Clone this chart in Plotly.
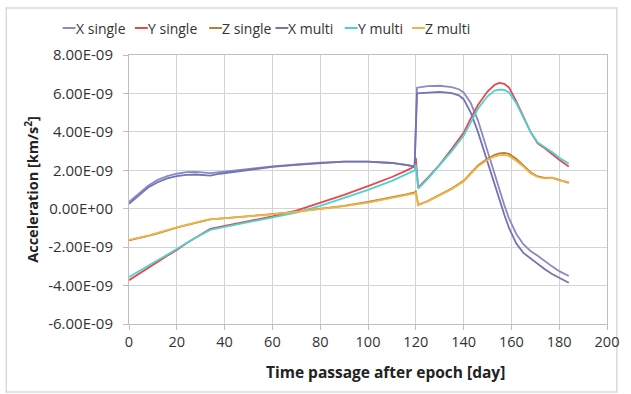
import plotly.graph_objects as go
import numpy as np

# ---- data (acceleration in units of 1e-9 km/s^2) ----
series_names = ["X single", "Y single", "Z single", "X multi", "Y multi", "Z multi"]
series_colors = ["#8A8AC6", "#E8474F", "#B57D3E", "#7474B3", "#4DD2D2", "#F0B443"]

days_x = [0, 4, 8, 12, 16, 20, 24, 28, 32, 34, 38, 44, 50, 60, 70, 80, 90, 100, 110, 116, 119.5,
          120.5, 125, 130, 135, 138, 140, 143, 146, 150, 153, 155, 157, 159, 162, 165, 168, 171, 174, 177, 180, 184]
x_single = [0.35, 0.8, 1.2, 1.5, 1.7, 1.82, 1.9, 1.92, 1.88, 1.85, 1.9, 1.98, 2.08, 2.2, 2.3, 2.4, 2.45, 2.45, 2.38, 2.28, 2.2,
            6.3, 6.38, 6.4, 6.33, 6.22, 6.05, 5.5, 4.6, 3.0, 1.8, 0.95, 0.2, -0.5, -1.3, -1.85, -2.2, -2.45, -2.75, -3.0, -3.25, -3.5]
x_multi = [0.25, 0.7, 1.1, 1.38, 1.58, 1.7, 1.76, 1.78, 1.75, 1.72, 1.82, 1.92, 2.05, 2.18, 2.28, 2.38, 2.45, 2.45, 2.38, 2.28, 2.2,
           6.0, 6.05, 6.08, 6.02, 5.9, 5.7, 5.0, 4.0, 2.4, 1.3, 0.5, -0.3, -1.0, -1.8, -2.3, -2.6, -2.85, -3.15, -3.4, -3.6, -3.85]

days_yz = [0, 4, 8, 12, 16, 20, 24, 28, 32, 34, 38, 44, 50, 60, 70, 80, 90, 100, 110, 116, 119.5, 120,
           121, 125, 130, 135, 140, 143, 146, 150, 153, 155, 157, 159, 162, 165, 168, 171, 174, 177, 180, 184]
y_single = [-3.72, -3.4, -3.05, -2.75, -2.45, -2.15, -1.8, -1.5, -1.2, -1.05, -0.95, -0.8, -0.65, -0.4, -0.1, 0.3, 0.72, 1.18, 1.65, 1.98, 2.2, 2.65,
            1.1, 1.6, 2.3, 3.1, 3.95, 4.7, 5.4, 6.1, 6.45, 6.55, 6.5, 6.3, 5.6, 4.8, 4.0, 3.4, 3.15, 2.85, 2.55, 2.2]
y_multi = [-3.55, -3.25, -2.95, -2.68, -2.4, -2.12, -1.8, -1.5, -1.22, -1.1, -1.0, -0.85, -0.7, -0.45, -0.2, 0.15, 0.55, 0.98, 1.45, 1.8, 2.0, 2.3,
           1.05, 1.55, 2.25, 3.0, 3.8, 4.5, 5.2, 5.85, 6.15, 6.2, 6.18, 6.05, 5.5, 4.75, 4.0, 3.45, 3.2, 2.95, 2.65, 2.35]
z_single = [-1.65, -1.55, -1.42, -1.28, -1.12, -0.98, -0.85, -0.72, -0.6, -0.56, -0.52, -0.46, -0.4, -0.28, -0.15, 0.0, 0.15, 0.35, 0.58, 0.75, 0.85, 0.9,
            0.2, 0.4, 0.72, 1.05, 1.45, 1.85, 2.25, 2.6, 2.8, 2.88, 2.9, 2.85, 2.6, 2.25, 1.9, 1.68, 1.6, 1.62, 1.5, 1.35]
z_multi = [-1.62, -1.52, -1.4, -1.26, -1.1, -0.97, -0.84, -0.71, -0.6, -0.56, -0.52, -0.46, -0.4, -0.29, -0.16, -0.02, 0.13, 0.32, 0.55, 0.72, 0.8, 0.85,
           0.18, 0.38, 0.7, 1.02, 1.42, 1.8, 2.2, 2.55, 2.72, 2.78, 2.8, 2.75, 2.5, 2.2, 1.85, 1.65, 1.58, 1.6, 1.48, 1.38]

y_tick_vals = [-6, -4, -2, 0, 2, 4, 6, 8]
y_tick_text = ["-6.00E-09", "-4.00E-09", "-2.00E-09", "0.00E+00", "2.00E-09", "4.00E-09", "6.00E-09", "8.00E-09"]
x_tick_vals = [0, 20, 40, 60, 80, 100, 120, 140, 160, 180, 200]
x_title = "Time passage after epoch [day]"
y_title = "Acceleration [km/s<sup>2</sup>]"

SCALE = 1e-9
FONT = "Open Sans"

series_x = [days_x, days_yz, days_yz, days_x, days_yz, days_yz]
series_y = [x_single, y_single, z_single, x_multi, y_multi, z_multi]

fig = go.Figure()
for name, color, xs, ys in zip(series_names, series_colors, series_x, series_y):
    fig.add_trace(go.Scatter(x=xs, y=np.array(ys) * SCALE, mode="lines", name=name,
                             line=dict(color=color, width=1.8), showlegend=False))

# custom compact legend (short coloured dash + name)
legend_px = [62, 135, 210, 277, 347, 415]
L, R, T, B = 129, 19, 55, 70
W, H = 631, 394
pw, ph = W - L - R, H - T - B
leg_y = (H - B - 28) / ph
for name, color, px in zip(series_names, series_colors, legend_px):
    fig.add_shape(type="line", xref="paper", yref="paper",
                  x0=(px - L) / pw, x1=(px + 13 - L) / pw, y0=leg_y, y1=leg_y,
                  line=dict(color=color, width=2))
    fig.add_annotation(x=(px + 13 - L) / pw, y=leg_y, xref="paper", yref="paper",
                       xanchor="left", yanchor="middle", showarrow=False, xshift=-2,
                       text=name, font=dict(family=FONT, size=14, color="#333333"))

# x-axis title (placed as in the reference, slightly right of centre)
fig.add_annotation(x=(388 - L) / pw, y=(H - B - 372) / ph, xref="paper", yref="paper",
                   xanchor="center", yanchor="middle", showarrow=False,
                   text=x_title, font=dict(family=FONT, size=15.5, weight="bold", color="#222222"))

# outer chart border
fig.add_shape(type="rect", xref="paper", yref="paper",
              x0=(5 - L) / pw, x1=(622 - L) / pw, y0=(H - B - 392) / ph, y1=(H - B - 8) / ph,
              line=dict(color="#D9D9D9", width=1.5), fillcolor="rgba(0,0,0,0)", layer="below")

fig.update_layout(
    width=W, height=H, margin=dict(l=L, r=R, t=T, b=B),
    paper_bgcolor="white", plot_bgcolor="white",
    font=dict(family=FONT, size=14, color="#333333"),
)
fig.update_xaxes(range=[0, 200], tickvals=x_tick_vals, showgrid=True, gridcolor="#D4D4D4", gridwidth=1,
                 zeroline=False, showline=True, linecolor="#BFBFBF", linewidth=1, mirror=True,
                 ticks="outside", ticklen=5, tickcolor="#BFBFBF", tickfont=dict(size=14.5))
fig.update_yaxes(range=[-6 * SCALE, 8 * SCALE], tickvals=np.array(y_tick_vals) * SCALE, ticktext=y_tick_text,
                 showgrid=True, gridcolor="#D4D4D4", gridwidth=1,
                 zeroline=False, showline=True, linecolor="#BFBFBF", linewidth=1, mirror=True,
                 ticks="outside", ticklen=5, tickcolor="#BFBFBF", ticklabelstandoff=7, tickfont=dict(size=15),
                 title=dict(text=y_title, font=dict(family=FONT, size=14.5, weight="bold", color="#222222"), standoff=6))

fig.write_html("out.html")
